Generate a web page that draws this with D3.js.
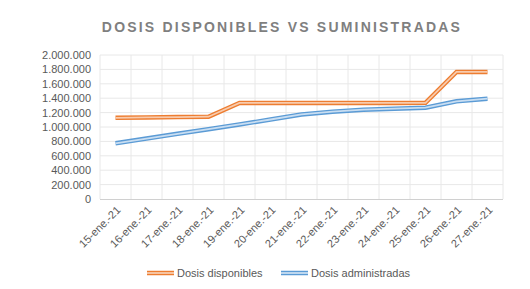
<!DOCTYPE html>
<html>
<head>
<meta charset="utf-8">
<script src="https://cdn.jsdelivr.net/npm/d3@7"></script>
<style>
  body { margin: 0; background: #fff; }
  text { font-family: "Liberation Sans", Arial, sans-serif; }
</style>
</head>
<body>
<div id="chart"></div>
<script>
  // data
  const fechas = ["15-ene.-21", "16-ene.-21", "17-ene.-21", "18-ene.-21", "19-ene.-21", "20-ene.-21",
    "21-ene.-21", "22-ene.-21", "23-ene.-21", "24-ene.-21", "25-ene.-21", "26-ene.-21", "27-ene.-21"];
  const disponibles = [1128000, 1133000, 1138000, 1143000, 1334000, 1334000, 1334000,
    1334000, 1334000, 1334000, 1336000, 1765000, 1765000];
  const administradas = [774000, 840000, 906000, 970000, 1035000, 1104000, 1174000,
    1213000, 1240000, 1254000, 1268000, 1357000, 1393000];
  const yTicks = [0, 200000, 400000, 600000, 800000, 1000000, 1200000, 1400000, 1600000, 1800000, 2000000];

  const width = 530, height = 289;
  const margin = {top: 55, right: 27, bottom: 90, left: 100};

  const svg = d3.select("#chart").append("svg")
    .attr("width", width)
    .attr("height", height);

  svg.append("text")
    .attr("x", 282)
    .attr("y", 32)
    .attr("text-anchor", "middle")
    .style("font-size", "14px")
    .style("font-weight", "bold")
    .style("letter-spacing", "2.2px")
    .style("fill", "#7f7f7f")
    .text("DOSIS DISPONIBLES VS SUMINISTRADAS");

  const x = d3.scaleBand()
    .domain(fechas)
    .range([margin.left, width - margin.right]);

  const y = d3.scaleLinear()
    .domain([0, 2000000])
    .range([height - margin.bottom, margin.top]);

  const fmt = d3.formatLocale({decimal: ",", thousands: ".", grouping: [3], currency: ["", "€"]}).format(",d");

  // horizontal grid
  svg.append("g")
    .selectAll("line")
    .data(yTicks.slice(1))
    .enter().append("line")
    .attr("x1", margin.left).attr("x2", width - margin.right)
    .attr("y1", d => y(d)).attr("y2", d => y(d))
    .style("stroke", "#e8e8e8");

  // vertical grid at category boundaries
  const bounds = fechas.map(d => x(d)).concat([width - margin.right]);
  svg.append("g")
    .selectAll("line")
    .data(bounds)
    .enter().append("line")
    .attr("x1", d => d).attr("x2", d => d)
    .attr("y1", y(0)).attr("y2", y(2000000))
    .style("stroke", "#e8e8e8");

  // bottom axis line
  svg.append("line")
    .attr("x1", margin.left).attr("x2", width - margin.right)
    .attr("y1", y(0) + 0.5).attr("y2", y(0) + 0.5)
    .style("stroke", "#d0d0d0");

  // y labels
  svg.append("g")
    .selectAll("text")
    .data(yTicks)
    .enter().append("text")
    .attr("x", 91)
    .attr("y", d => y(d) + 4)
    .attr("text-anchor", "end")
    .style("font-size", "11px")
    .style("fill", "#595959")
    .text(d => fmt(d));

  // x labels
  svg.append("g")
    .selectAll("text")
    .data(fechas)
    .enter().append("text")
    .attr("transform", d => "translate(" + (x(d) + x.bandwidth() / 2 + 3) + "," + (y(0) + 9) + ") rotate(-45)")
    .attr("text-anchor", "end")
    .attr("dy", "0.35em")
    .style("font-size", "11px")
    .style("fill", "#595959")
    .text(d => d);

  const series = [
    {name: "Dosis disponibles", values: disponibles, dark: "#ed7d31", light: "#f8cbad"},
    {name: "Dosis administradas", values: administradas, dark: "#5b9bd5", light: "#c9def2"}
  ];

  const line = d3.line()
    .x((d, i) => x(fechas[i]) + x.bandwidth() / 2)
    .y(d => y(d));

  // double (compound) lines
  series.forEach(s => {
    svg.append("path")
      .attr("d", line(s.values))
      .style("fill", "none")
      .style("stroke", s.dark)
      .style("stroke-width", 4.5);
    svg.append("path")
      .attr("d", line(s.values))
      .style("fill", "none")
      .style("stroke", s.light)
      .style("stroke-width", 1.8);
  });

  // legend
  const legendX = [147, 281];
  const legend = svg.selectAll(".legend")
    .data(series)
    .enter().append("g")
    .attr("class", "legend")
    .attr("transform", (d, i) => "translate(" + legendX[i] + ",273)");

  legend.append("line")
    .attr("x1", 0).attr("x2", 27)
    .style("stroke", d => d.dark)
    .style("stroke-width", 4.5);
  legend.append("line")
    .attr("x1", 0).attr("x2", 27)
    .style("stroke", d => d.light)
    .style("stroke-width", 1.8);

  legend.append("text")
    .attr("x", 30)
    .attr("y", 4)
    .style("font-size", "11px")
    .style("fill", "#595959")
    .text(d => d.name);
</script>
</body>
</html>
